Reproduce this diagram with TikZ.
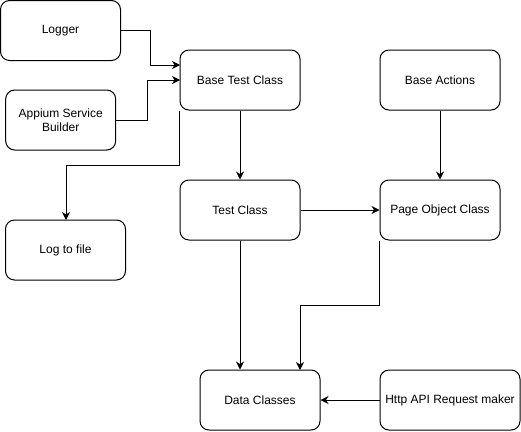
\documentclass[tikz,border=0pt]{standalone}
\usepackage{fontspec}
\setmainfont{Liberation Sans}
\usetikzlibrary{arrows.meta}
\begin{document}
\begin{tikzpicture}[x=1pt,y=-1pt,
  box/.style={draw, line width=1pt, rounded corners=9pt, minimum height=60pt, inner sep=0pt,
    align=center, font=\fontsize{12}{14}\selectfont},
  conn/.style={draw, line width=1pt, -{Stealth[length=8pt,width=8pt,inset=2.5pt]}}]
\useasboundingbox (0,0) rectangle (521,431);
\node[box, minimum width=120pt] (logger) at (60.5,30.5) {Logger};
\node[box, minimum width=110pt] (appium) at (60.7,120) {Appium Service\\Builder};
\node[box, minimum width=120pt] (base) at (240,80) {Base Test Class};
\node[box, minimum width=120pt] (actions) at (440,80) {Base Actions};
\node[box, minimum width=120pt] (logfile) at (65.5,250) {Log to file};
\node[box, minimum width=120pt] (test) at (240,210) {Test Class};
\node[box, minimum width=120pt] (page) at (440,210) {Page Object Class};
\node[box, minimum width=120pt] (data) at (260,400) {Data Classes};
\node[box, minimum width=140pt] (http) at (450,400) {Http API Request maker};
\coordinate (baseA) at (180,65);
\coordinate (baseB) at (180,80);
\coordinate (lfTop) at (66,220);
\coordinate (dataB) at (300,370);
\draw[conn] (logger.east) -| (150,65) -- (baseA);
\draw[conn] (appium.east) -| (147,80) -- (baseB);
\draw[conn] (base.south west) |- (66,165) -- (lfTop);
\draw[conn] (base.south) -- (test.north);
\draw[conn] (actions.south) -- (page.north);
\draw[conn] (test.east) -- (page.west);
\draw[conn] (test.south) -- (test.south |- data.north);
\draw[conn] (page.south west) |- (300,305) -- (dataB);
\draw[conn] (http.west) -- (data.east);
\end{tikzpicture}
\end{document}
